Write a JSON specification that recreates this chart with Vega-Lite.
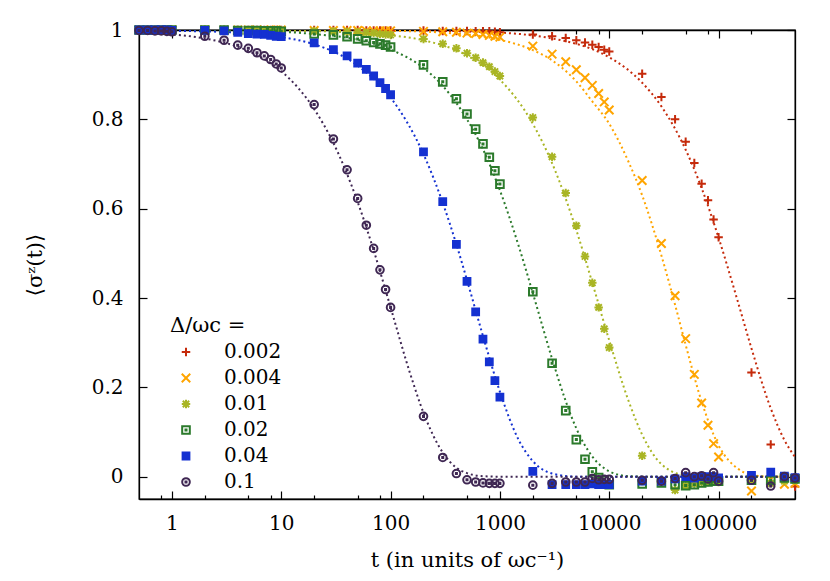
{
"$schema": "https://vega.github.io/schema/vega-lite/v6.json",
"width": 656, "height": 469,
"autosize": {"type": "none"},
"padding": {"left": 139, "top": 30, "right": 35, "bottom": 82},
"background": "white",
"config": {
  "view": {"stroke": "black", "strokeWidth": 1.3},
  "font": "DejaVu Serif",
  "axis": {"domainColor": "black", "domainWidth": 1.3, "tickColor": "black", "tickWidth": 1.2, "labelColor": "black", "labelFont": "DejaVu Serif", "labelFontSize": 20, "titleFont": "DejaVu Serif", "titleFontSize": 21, "titleFontWeight": "normal", "titleColor": "black", "grid": false},
  "legend": {"padding": 0, "titleFont": "DejaVu Serif", "labelFont": "DejaVu Serif", "titleFontSize": 21, "titleFontWeight": "normal", "titleColor": "black", "titlePadding": 6, "labelFontSize": 20, "labelColor": "black", "symbolStrokeWidth": 2, "symbolSize": 72, "rowPadding": 6, "symbolOffset": 6, "labelOffset": 28}
},
"datasets": {
"fit": [
{"d":"0.002","t":0.5,"s":1},{"d":"0.002","t":100,"s":0.999},{"d":"0.002","t":1000,"s":0.994},{"d":"0.002","t":3000,"s":0.981},{"d":"0.002","t":5000,"s":0.969},{"d":"0.002","t":10000,"s":0.939},{"d":"0.002","t":20000,"s":0.882},{"d":"0.002","t":30000,"s":0.829},{"d":"0.002","t":50000,"s":0.732},{"d":"0.002","t":70000,"s":0.646},{"d":"0.002","t":100000,"s":0.535},{"d":"0.002","t":150000,"s":0.392},{"d":"0.002","t":200000,"s":0.287},{"d":"0.002","t":300000,"s":0.153},{"d":"0.002","t":400000,"s":0.082},{"d":"0.002","t":500000,"s":0.044},
{"d":"0.004","t":0.5,"s":1},{"d":"0.004","t":100,"s":0.998},{"d":"0.004","t":500,"s":0.99},{"d":"0.004","t":1000,"s":0.978},{"d":"0.004","t":2000,"s":0.955},{"d":"0.004","t":3000,"s":0.932},{"d":"0.004","t":5000,"s":0.885},{"d":"0.004","t":7000,"s":0.84},{"d":"0.004","t":10000,"s":0.79},{"d":"0.004","t":15000,"s":0.705},{"d":"0.004","t":20000,"s":0.63},{"d":"0.004","t":30000,"s":0.495},{"d":"0.004","t":40000,"s":0.385},{"d":"0.004","t":50000,"s":0.295},{"d":"0.004","t":70000,"s":0.168},{"d":"0.004","t":100000,"s":0.07},{"d":"0.004","t":150000,"s":0.018},{"d":"0.004","t":200000,"s":0.004},{"d":"0.004","t":300000,"s":0},{"d":"0.004","t":500000,"s":0},
{"d":"0.01","t":0.5,"s":1},{"d":"0.01","t":10,"s":0.999},{"d":"0.01","t":100,"s":0.988},{"d":"0.01","t":200,"s":0.977},{"d":"0.01","t":500,"s":0.943},{"d":"0.01","t":1000,"s":0.889},{"d":"0.01","t":2000,"s":0.79},{"d":"0.01","t":3000,"s":0.702},{"d":"0.01","t":5000,"s":0.552},{"d":"0.01","t":7000,"s":0.434},{"d":"0.01","t":10000,"s":0.305},{"d":"0.01","t":15000,"s":0.17},{"d":"0.01","t":20000,"s":0.094},{"d":"0.01","t":30000,"s":0.028},{"d":"0.01","t":50000,"s":0.003},{"d":"0.01","t":100000,"s":0},{"d":"0.01","t":500000,"s":0},
{"d":"0.02","t":0.5,"s":1},{"d":"0.02","t":5,"s":0.998},{"d":"0.02","t":10,"s":0.996},{"d":"0.02","t":20,"s":0.991},{"d":"0.02","t":50,"s":0.978},{"d":"0.02","t":100,"s":0.956},{"d":"0.02","t":200,"s":0.915},{"d":"0.02","t":300,"s":0.875},{"d":"0.02","t":500,"s":0.8},{"d":"0.02","t":700,"s":0.733},{"d":"0.02","t":1000,"s":0.641},{"d":"0.02","t":1500,"s":0.513},{"d":"0.02","t":2000,"s":0.411},{"d":"0.02","t":3000,"s":0.264},{"d":"0.02","t":4000,"s":0.169},{"d":"0.02","t":5000,"s":0.108},{"d":"0.02","t":7000,"s":0.045},{"d":"0.02","t":10000,"s":0.012},{"d":"0.02","t":15000,"s":0.001},{"d":"0.02","t":20000,"s":0},{"d":"0.02","t":500000,"s":0},
{"d":"0.04","t":0.5,"s":0.999},{"d":"0.04","t":1,"s":0.998},{"d":"0.04","t":2,"s":0.997},{"d":"0.04","t":5,"s":0.992},{"d":"0.04","t":10,"s":0.984},{"d":"0.04","t":20,"s":0.968},{"d":"0.04","t":50,"s":0.92},{"d":"0.04","t":100,"s":0.849},{"d":"0.04","t":200,"s":0.722},{"d":"0.04","t":300,"s":0.613},{"d":"0.04","t":400,"s":0.52},{"d":"0.04","t":500,"s":0.44},{"d":"0.04","t":700,"s":0.315},{"d":"0.04","t":1000,"s":0.19},{"d":"0.04","t":1500,"s":0.08},{"d":"0.04","t":2000,"s":0.035},{"d":"0.04","t":3000,"s":0.007},{"d":"0.04","t":5000,"s":0},{"d":"0.04","t":500000,"s":0},
{"d":"0.1","t":0.5,"s":0.995},{"d":"0.1","t":1,"s":0.99},{"d":"0.1","t":2,"s":0.981},{"d":"0.1","t":5,"s":0.953},{"d":"0.1","t":10,"s":0.908},{"d":"0.1","t":20,"s":0.823},{"d":"0.1","t":30,"s":0.747},{"d":"0.1","t":50,"s":0.615},{"d":"0.1","t":70,"s":0.507},{"d":"0.1","t":100,"s":0.379},{"d":"0.1","t":150,"s":0.233},{"d":"0.1","t":200,"s":0.143},{"d":"0.1","t":300,"s":0.054},{"d":"0.1","t":400,"s":0.02},{"d":"0.1","t":500,"s":0.008},{"d":"0.1","t":700,"s":0.001},{"d":"0.1","t":1000,"s":0},{"d":"0.1","t":500000,"s":0}
],
"pts": [
{"d":"0.002","t":0.5,"s":1},{"d":"0.002","t":0.6,"s":1},{"d":"0.002","t":0.7,"s":1},{"d":"0.002","t":0.8,"s":1},{"d":"0.002","t":0.9,"s":1},{"d":"0.002","t":1,"s":1},
{"d":"0.002","t":2,"s":1},{"d":"0.002","t":3,"s":1},{"d":"0.002","t":4,"s":1},{"d":"0.002","t":5,"s":1},{"d":"0.002","t":6,"s":1},{"d":"0.002","t":7,"s":1},{"d":"0.002","t":8,"s":1},{"d":"0.002","t":9,"s":1},{"d":"0.002","t":10,"s":1},
{"d":"0.002","t":20,"s":1},{"d":"0.002","t":30,"s":1},{"d":"0.002","t":40,"s":1},{"d":"0.002","t":50,"s":1},{"d":"0.002","t":60,"s":0.999},{"d":"0.002","t":70,"s":0.999},{"d":"0.002","t":80,"s":0.999},{"d":"0.002","t":90,"s":0.999},{"d":"0.002","t":100,"s":0.999},
{"d":"0.002","t":200,"s":0.999},{"d":"0.002","t":300,"s":0.998},{"d":"0.002","t":400,"s":0.998},{"d":"0.002","t":500,"s":0.998},{"d":"0.002","t":600,"s":0.997},{"d":"0.002","t":700,"s":0.997},{"d":"0.002","t":800,"s":0.997},{"d":"0.002","t":900,"s":0.996},{"d":"0.002","t":1000,"s":0.995},
{"d":"0.002","t":2000,"s":0.99},{"d":"0.002","t":3000,"s":0.986},{"d":"0.002","t":4000,"s":0.982},{"d":"0.002","t":5000,"s":0.977},{"d":"0.002","t":6000,"s":0.972},{"d":"0.002","t":7000,"s":0.967},{"d":"0.002","t":8000,"s":0.962},{"d":"0.002","t":9000,"s":0.956},{"d":"0.002","t":10000,"s":0.952},
{"d":"0.002","t":20000,"s":0.902},{"d":"0.002","t":30000,"s":0.85},{"d":"0.002","t":40000,"s":0.8},{"d":"0.002","t":50000,"s":0.75},{"d":"0.002","t":60000,"s":0.702},{"d":"0.002","t":70000,"s":0.656},{"d":"0.002","t":80000,"s":0.619},{"d":"0.002","t":90000,"s":0.576},{"d":"0.002","t":100000,"s":0.536},
{"d":"0.002","t":200000,"s":0.233},{"d":"0.002","t":300000,"s":0.072},{"d":"0.002","t":400000,"s":0},{"d":"0.002","t":500000,"s":-0.022},
{"d":"0.004","t":0.5,"s":1},{"d":"0.004","t":0.6,"s":1},{"d":"0.004","t":0.7,"s":1},{"d":"0.004","t":0.8,"s":1},{"d":"0.004","t":0.9,"s":1},{"d":"0.004","t":1,"s":1},
{"d":"0.004","t":2,"s":1},{"d":"0.004","t":3,"s":1},{"d":"0.004","t":4,"s":1},{"d":"0.004","t":5,"s":1},{"d":"0.004","t":6,"s":1},{"d":"0.004","t":7,"s":1},{"d":"0.004","t":8,"s":1},{"d":"0.004","t":9,"s":1},{"d":"0.004","t":10,"s":1},
{"d":"0.004","t":20,"s":0.999},{"d":"0.004","t":30,"s":0.999},{"d":"0.004","t":40,"s":0.999},{"d":"0.004","t":50,"s":0.999},{"d":"0.004","t":60,"s":0.998},{"d":"0.004","t":70,"s":0.998},{"d":"0.004","t":80,"s":0.998},{"d":"0.004","t":90,"s":0.998},{"d":"0.004","t":100,"s":0.998},
{"d":"0.004","t":200,"s":0.997},{"d":"0.004","t":300,"s":0.996},{"d":"0.004","t":400,"s":0.995},{"d":"0.004","t":500,"s":0.993},{"d":"0.004","t":600,"s":0.992},{"d":"0.004","t":700,"s":0.99},{"d":"0.004","t":800,"s":0.988},{"d":"0.004","t":900,"s":0.986},{"d":"0.004","t":1000,"s":0.984},
{"d":"0.004","t":2000,"s":0.964},{"d":"0.004","t":3000,"s":0.946},{"d":"0.004","t":4000,"s":0.929},{"d":"0.004","t":5000,"s":0.911},{"d":"0.004","t":6000,"s":0.893},{"d":"0.004","t":7000,"s":0.876},{"d":"0.004","t":8000,"s":0.858},{"d":"0.004","t":9000,"s":0.839},{"d":"0.004","t":10000,"s":0.821},
{"d":"0.004","t":20000,"s":0.663},{"d":"0.004","t":30000,"s":0.522},{"d":"0.004","t":40000,"s":0.405},{"d":"0.004","t":50000,"s":0.309},{"d":"0.004","t":60000,"s":0.229},{"d":"0.004","t":70000,"s":0.165},{"d":"0.004","t":80000,"s":0.115},{"d":"0.004","t":90000,"s":0.074},{"d":"0.004","t":100000,"s":0.044},
{"d":"0.004","t":200000,"s":-0.032},{"d":"0.004","t":300000,"s":-0.006},{"d":"0.004","t":400000,"s":-0.017},{"d":"0.004","t":500000,"s":-0.015},
{"d":"0.01","t":0.5,"s":1},{"d":"0.01","t":0.6,"s":1},{"d":"0.01","t":0.7,"s":1},{"d":"0.01","t":0.8,"s":1},{"d":"0.01","t":0.9,"s":1},{"d":"0.01","t":1,"s":1},
{"d":"0.01","t":2,"s":1},{"d":"0.01","t":3,"s":1},{"d":"0.01","t":4,"s":1},{"d":"0.01","t":5,"s":0.999},{"d":"0.01","t":6,"s":0.999},{"d":"0.01","t":7,"s":0.999},{"d":"0.01","t":8,"s":0.999},{"d":"0.01","t":9,"s":0.999},{"d":"0.01","t":10,"s":0.999},
{"d":"0.01","t":20,"s":0.998},{"d":"0.01","t":30,"s":0.997},{"d":"0.01","t":40,"s":0.996},{"d":"0.01","t":50,"s":0.995},{"d":"0.01","t":60,"s":0.994},{"d":"0.01","t":70,"s":0.993},{"d":"0.01","t":80,"s":0.991},{"d":"0.01","t":90,"s":0.99},{"d":"0.01","t":100,"s":0.989},
{"d":"0.01","t":200,"s":0.98},{"d":"0.01","t":300,"s":0.969},{"d":"0.01","t":400,"s":0.959},{"d":"0.01","t":500,"s":0.948},{"d":"0.01","t":600,"s":0.938},{"d":"0.01","t":700,"s":0.927},{"d":"0.01","t":800,"s":0.918},{"d":"0.01","t":900,"s":0.907},{"d":"0.01","t":1000,"s":0.897},
{"d":"0.01","t":2000,"s":0.804},{"d":"0.01","t":3000,"s":0.716},{"d":"0.01","t":4000,"s":0.635},{"d":"0.01","t":5000,"s":0.562},{"d":"0.01","t":6000,"s":0.493},{"d":"0.01","t":7000,"s":0.434},{"d":"0.01","t":8000,"s":0.379},{"d":"0.01","t":9000,"s":0.331},{"d":"0.01","t":10000,"s":0.289},
{"d":"0.01","t":20000,"s":0.047},{"d":"0.01","t":30000,"s":-0.012},{"d":"0.01","t":40000,"s":-0.03},{"d":"0.01","t":50000,"s":-0.02},{"d":"0.01","t":60000,"s":-0.016},{"d":"0.01","t":70000,"s":-0.013},{"d":"0.01","t":80000,"s":-0.012},{"d":"0.01","t":90000,"s":-0.01},{"d":"0.01","t":100000,"s":-0.012},
{"d":"0.01","t":200000,"s":-0.008},{"d":"0.01","t":300000,"s":-0.015},{"d":"0.01","t":400000,"s":-0.01},{"d":"0.01","t":500000,"s":-0.008},
{"d":"0.02","t":0.5,"s":1},{"d":"0.02","t":0.6,"s":1},{"d":"0.02","t":0.7,"s":1},{"d":"0.02","t":0.8,"s":1},{"d":"0.02","t":0.9,"s":1},{"d":"0.02","t":1,"s":1},
{"d":"0.02","t":2,"s":1},{"d":"0.02","t":3,"s":1},{"d":"0.02","t":4,"s":0.999},{"d":"0.02","t":5,"s":0.999},{"d":"0.02","t":6,"s":0.999},{"d":"0.02","t":7,"s":0.998},{"d":"0.02","t":8,"s":0.998},{"d":"0.02","t":9,"s":0.998},{"d":"0.02","t":10,"s":0.997},
{"d":"0.02","t":20,"s":0.991},{"d":"0.02","t":30,"s":0.989},{"d":"0.02","t":40,"s":0.985},{"d":"0.02","t":50,"s":0.98},{"d":"0.02","t":60,"s":0.976},{"d":"0.02","t":70,"s":0.972},{"d":"0.02","t":80,"s":0.969},{"d":"0.02","t":90,"s":0.966},{"d":"0.02","t":100,"s":0.962},
{"d":"0.02","t":200,"s":0.922},{"d":"0.02","t":300,"s":0.884},{"d":"0.02","t":400,"s":0.846},{"d":"0.02","t":500,"s":0.812},{"d":"0.02","t":600,"s":0.778},{"d":"0.02","t":700,"s":0.745},{"d":"0.02","t":800,"s":0.715},{"d":"0.02","t":900,"s":0.685},{"d":"0.02","t":1000,"s":0.655},
{"d":"0.02","t":2000,"s":0.414},{"d":"0.02","t":3000,"s":0.254},{"d":"0.02","t":4000,"s":0.148},{"d":"0.02","t":5000,"s":0.083},{"d":"0.02","t":6000,"s":0.039},{"d":"0.02","t":7000,"s":0.011},{"d":"0.02","t":8000,"s":-0.002},{"d":"0.02","t":9000,"s":-0.008},{"d":"0.02","t":10000,"s":-0.018},
{"d":"0.02","t":20000,"s":-0.016},{"d":"0.02","t":30000,"s":-0.014},{"d":"0.02","t":40000,"s":-0.018},{"d":"0.02","t":50000,"s":-0.02},{"d":"0.02","t":60000,"s":-0.018},{"d":"0.02","t":70000,"s":-0.014},{"d":"0.02","t":80000,"s":-0.012},{"d":"0.02","t":90000,"s":-0.01},{"d":"0.02","t":100000,"s":-0.01},
{"d":"0.02","t":200000,"s":-0.008},{"d":"0.02","t":300000,"s":-0.008},{"d":"0.02","t":400000,"s":-0.003},{"d":"0.02","t":500000,"s":-0.005},
{"d":"0.04","t":0.5,"s":1},{"d":"0.04","t":0.6,"s":1},{"d":"0.04","t":0.7,"s":1},{"d":"0.04","t":0.8,"s":1},{"d":"0.04","t":0.9,"s":1},{"d":"0.04","t":1,"s":0.999},
{"d":"0.04","t":2,"s":0.999},{"d":"0.04","t":3,"s":0.998},{"d":"0.04","t":4,"s":0.995},{"d":"0.04","t":5,"s":0.992},{"d":"0.04","t":6,"s":0.991},{"d":"0.04","t":7,"s":0.99},{"d":"0.04","t":8,"s":0.988},{"d":"0.04","t":9,"s":0.986},{"d":"0.04","t":10,"s":0.985},
{"d":"0.04","t":20,"s":0.971},{"d":"0.04","t":30,"s":0.956},{"d":"0.04","t":40,"s":0.942},{"d":"0.04","t":50,"s":0.926},{"d":"0.04","t":60,"s":0.912},{"d":"0.04","t":70,"s":0.897},{"d":"0.04","t":80,"s":0.882},{"d":"0.04","t":90,"s":0.869},{"d":"0.04","t":100,"s":0.855},
{"d":"0.04","t":200,"s":0.727},{"d":"0.04","t":300,"s":0.616},{"d":"0.04","t":400,"s":0.52},{"d":"0.04","t":500,"s":0.437},{"d":"0.04","t":600,"s":0.369},{"d":"0.04","t":700,"s":0.308},{"d":"0.04","t":800,"s":0.257},{"d":"0.04","t":900,"s":0.215},{"d":"0.04","t":1000,"s":0.178},
{"d":"0.04","t":2000,"s":0.012},{"d":"0.04","t":3000,"s":-0.018},{"d":"0.04","t":4000,"s":-0.018},{"d":"0.04","t":5000,"s":-0.018},{"d":"0.04","t":6000,"s":-0.018},{"d":"0.04","t":7000,"s":-0.016},{"d":"0.04","t":8000,"s":-0.018},{"d":"0.04","t":9000,"s":-0.018},{"d":"0.04","t":10000,"s":-0.018},
{"d":"0.04","t":20000,"s":-0.01},{"d":"0.04","t":30000,"s":-0.01},{"d":"0.04","t":40000,"s":-0.005},{"d":"0.04","t":50000,"s":0},{"d":"0.04","t":60000,"s":-0.003},{"d":"0.04","t":70000,"s":0},{"d":"0.04","t":80000,"s":0},{"d":"0.04","t":90000,"s":0},{"d":"0.04","t":100000,"s":-0.003},
{"d":"0.04","t":200000,"s":0.003},{"d":"0.04","t":300000,"s":0.01},{"d":"0.04","t":400000,"s":0.001},{"d":"0.04","t":500000,"s":-0.002},
{"d":"0.1","t":0.5,"s":0.999},{"d":"0.1","t":0.6,"s":0.999},{"d":"0.1","t":0.7,"s":0.998},{"d":"0.1","t":0.8,"s":0.998},{"d":"0.1","t":0.9,"s":0.997},{"d":"0.1","t":1,"s":0.996},
{"d":"0.1","t":2,"s":0.986},{"d":"0.1","t":3,"s":0.977},{"d":"0.1","t":4,"s":0.966},{"d":"0.1","t":5,"s":0.959},{"d":"0.1","t":6,"s":0.949},{"d":"0.1","t":7,"s":0.942},{"d":"0.1","t":8,"s":0.934},{"d":"0.1","t":9,"s":0.924},{"d":"0.1","t":10,"s":0.915},
{"d":"0.1","t":20,"s":0.833},{"d":"0.1","t":30,"s":0.756},{"d":"0.1","t":40,"s":0.687},{"d":"0.1","t":50,"s":0.623},{"d":"0.1","t":60,"s":0.563},{"d":"0.1","t":70,"s":0.511},{"d":"0.1","t":80,"s":0.463},{"d":"0.1","t":90,"s":0.419},{"d":"0.1","t":100,"s":0.379},
{"d":"0.1","t":200,"s":0.135},{"d":"0.1","t":300,"s":0.043},{"d":"0.1","t":400,"s":0.007},{"d":"0.1","t":500,"s":-0.007},{"d":"0.1","t":600,"s":-0.012},{"d":"0.1","t":700,"s":-0.014},{"d":"0.1","t":800,"s":-0.015},{"d":"0.1","t":900,"s":-0.015},{"d":"0.1","t":1000,"s":-0.015},
{"d":"0.1","t":2000,"s":-0.019},{"d":"0.1","t":3000,"s":-0.015},{"d":"0.1","t":4000,"s":-0.012},{"d":"0.1","t":5000,"s":-0.012},{"d":"0.1","t":6000,"s":-0.012},{"d":"0.1","t":7000,"s":-0.004},{"d":"0.1","t":8000,"s":-0.007},{"d":"0.1","t":9000,"s":-0.006},{"d":"0.1","t":10000,"s":-0.006},
{"d":"0.1","t":20000,"s":-0.008},{"d":"0.1","t":30000,"s":-0.01},{"d":"0.1","t":40000,"s":-0.004},{"d":"0.1","t":50000,"s":0.009},{"d":"0.1","t":60000,"s":0},{"d":"0.1","t":70000,"s":0.002},{"d":"0.1","t":80000,"s":-0.005},{"d":"0.1","t":90000,"s":0.009},{"d":"0.1","t":100000,"s":-0.01},
{"d":"0.1","t":200000,"s":-0.008},{"d":"0.1","t":300000,"s":-0.021},{"d":"0.1","t":400000,"s":0},{"d":"0.1","t":500000,"s":-0.003}
]
},
"layer": [
{
 "data": {"name": "fit"},
 "mark": {"type": "line", "strokeDash": [2, 3], "strokeWidth": 2, "interpolate": "monotone", "clip": true},
 "encoding": {
  "x": {"field": "t", "type": "quantitative", "scale": {"type": "log", "domain": [0.5, 500000], "nice": false},
        "axis": {"orient": "bottom", "values": [0.8,1,2,5,8,10,20,50,80,100,200,500,800,1000,2000,5000,8000,10000,20000,50000,80000,100000,200000],
                 "labelExpr": "indexof([1,10,100,1000,10000,100000], datum.value) >= 0 ? format(datum.value, 'd') : ''",
                 "tickSize": {"condition": {"test": "indexof([1,10,100,1000,10000,100000], datum.value) >= 0", "value": -8}, "value": -4},
                 "labelPadding": 22, "labelOverlap": false, "labelFlush": false,
                 "title": "t (in units of ωc⁻¹)", "titlePadding": 12}},
  "y": {"field": "s", "type": "quantitative", "scale": {"domain": [-0.05, 1], "nice": false, "zero": false},
        "axis": {"orient": "left", "values": [0, 0.2, 0.4, 0.6, 0.8, 1], "format": "~g", "tickSize": -8, "labelPadding": 24,
                 "title": "⟨σᶻ(t)⟩", "titlePadding": 46}},
  "color": {"field": "d", "type": "nominal",
            "scale": {"domain": ["0.002","0.004","0.01","0.02","0.04","0.1"], "range": ["#c52a0b","#ffa500","#a9b524","#2b7a2b","#1431d1","#3f2753"]},
            "legend": null}
 }
},
{
 "data": {"name": "pts"},
 "mark": {"type": "point", "filled": false, "strokeWidth": 2, "size": 72, "opacity": 1},
 "encoding": {
  "x": {"field": "t", "type": "quantitative", "scale": {"type": "log", "domain": [0.5, 500000], "nice": false},
        "axis": {"orient": "top", "values": [0.8,1,2,5,8,10,20,50,80,100,200,500,800,1000,2000,5000,8000,10000,20000,50000,80000,100000,200000],
                 "labels": false, "title": null,
                 "tickSize": {"condition": {"test": "indexof([1,10,100,1000,10000,100000], datum.value) >= 0", "value": -8}, "value": -4}}},
  "y": {"field": "s", "type": "quantitative", "scale": {"domain": [-0.05, 1], "nice": false, "zero": false},
        "axis": {"orient": "right", "values": [0, 0.2, 0.4, 0.6, 0.8, 1], "labels": false, "title": null, "tickSize": -8}},
  "color": {"field": "d", "type": "nominal",
            "scale": {"domain": ["0.002","0.004","0.01","0.02","0.04","0.1"], "range": ["#c52a0b","#ffa500","#a9b524","#2b7a2b","#1431d1","#3f2753"]},
            "legend": null},
  "fill": {"field": "d", "type": "nominal",
           "scale": {"domain": ["0.002","0.004","0.01","0.02","0.04","0.1"], "range": ["transparent","transparent","transparent","transparent","#1431d1","transparent"]},
           "legend": null},
  "shape": {"field": "d", "type": "nominal", "title": "Δ/ωc =",
            "scale": {"domain": ["0.002","0.004","0.01","0.02","0.04","0.1"],
                      "range": ["M-1,0L1,0M0,-1L0,1", "M-1,-1L1,1M-1,1L1,-1", "M-1,0L1,0M0,-1L0,1M-0.75,-0.75L0.75,0.75M-0.75,0.75L0.75,-0.75", "M-0.9,-0.9L0.9,-0.9L0.9,0.9L-0.9,0.9Z M-0.12,-0.12L0.12,-0.12L0.12,0.12L-0.12,0.12Z", "M-0.8,-0.8L0.8,-0.8L0.8,0.8L-0.8,0.8Z", "M-0.9,0A0.9,0.9 0 1,0 0.9,0A0.9,0.9 0 1,0 -0.9,0Z M-0.12,-0.12L0.12,-0.12L0.12,0.12L-0.12,0.12Z"]},
            "legend": {"orient": "none", "legendX": 31, "legendY": 285,
                       "symbolStrokeColor": {"expr": "datum.value === '0.002' ? '#c52a0b' : datum.value === '0.004' ? '#ffa500' : datum.value === '0.01' ? '#a9b524' : datum.value === '0.02' ? '#2b7a2b' : datum.value === '0.04' ? '#1431d1' : '#3f2753'"},
                       "symbolFillColor": {"expr": "datum.value === '0.04' ? '#1431d1' : 'transparent'"},
                       "symbolStrokeWidth": 2, "symbolOpacity": 1}}
 }
}
],
"resolve": {"axis": {"x": "independent", "y": "independent"}, "scale": {"shape": "independent"}, "legend": {"shape": "independent"}}
}
